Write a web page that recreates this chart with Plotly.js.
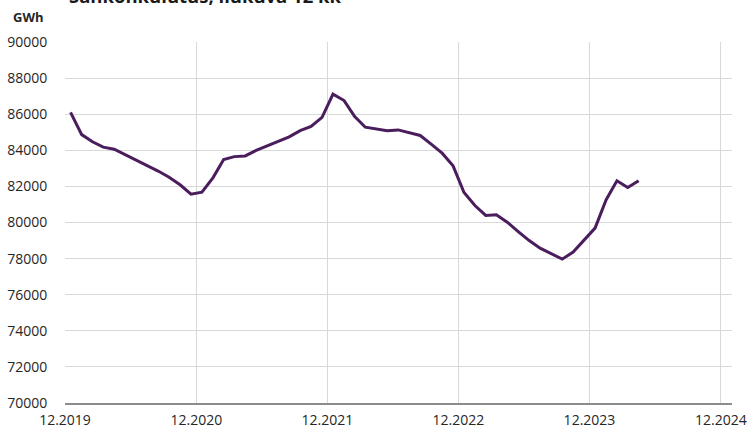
<!DOCTYPE html>
<html>
<head>
<meta charset="utf-8">
<script src="https://cdn.plot.ly/plotly-3.0.1.min.js"></script>
<style>html,body{margin:0;padding:0;background:#fff;}#chart{width:755px;height:434px;}</style>
</head>
<body>
<div id="chart"></div>
<script>
const months = [
  "2019-12","2020-01","2020-02","2020-03","2020-04","2020-05","2020-06","2020-07","2020-08","2020-09","2020-10","2020-11",
  "2020-12","2021-01","2021-02","2021-03","2021-04","2021-05","2021-06","2021-07","2021-08","2021-09","2021-10","2021-11",
  "2021-12","2022-01","2022-02","2022-03","2022-04","2022-05","2022-06","2022-07","2022-08","2022-09","2022-10","2022-11",
  "2022-12","2023-01","2023-02","2023-03","2023-04","2023-05","2023-06","2023-07","2023-08","2023-09","2023-10","2023-11",
  "2023-12","2024-01","2024-02","2024-03","2024-04"
];
const consumption = [
  86100,84870,84470,84175,84060,83765,83470,83140,82850,82510,82090,81570,
  81680,82490,83490,83650,83690,83990,84250,84520,84745,85090,85320,85825,
  87110,86755,85870,85280,85190,85080,85130,84970,84820,84340,83840,83140,
  81660,80925,80390,80430,80020,79500,79000,78580,78270,77970,78360,79025,
  79690,81260,82310,81940,82310
];
const titleText = "Sähkönkulutus, liukuva 12 kk";
const unitText = "GWh";

const font = {family: "Open Sans, sans-serif", size: 14, color: "#262626"};

Plotly.newPlot("chart", [{
  x: months,
  y: consumption,
  xperiod: "M1",
  xperiodalignment: "middle",
  type: "scatter",
  mode: "lines",
  line: {color: "#4a1d5c", width: 3},
  hoverinfo: "x+y"
}], {
  width: 755, height: 434,
  margin: {l: 65, r: 23, t: 42, b: 31},
  paper_bgcolor: "#ffffff",
  plot_bgcolor: "#ffffff",
  showlegend: false,
  font: font,
  xaxis: {
    type: "date",
    range: ["2019-12-01", "2025-01-01"],
    tick0: "2019-12-01",
    dtick: "M12",
    tickformat: "%m.%Y",
    showgrid: true,
    gridcolor: "#d9d9d9",
    gridwidth: 1,
    showline: true,
    linecolor: "#8c8c8c",
    linewidth: 1.5,
    ticks: "outside",
    ticklen: 3,
    tickcolor: "rgba(0,0,0,0)",
    zeroline: false,
    tickfont: font
  },
  yaxis: {
    range: [70000, 90000],
    dtick: 2000,
    tick0: 70000,
    showgrid: true,
    gridcolor: "#d9d9d9",
    gridwidth: 1,
    zeroline: false,
    showline: false,
    ticks: "outside",
    ticklen: 14,
    tickcolor: "rgba(0,0,0,0)",
    tickformat: "d",
    tickfont: font
  },
  annotations: [
    {text: "<b>" + unitText + "</b>", xref: "paper", yref: "paper",
     x: (28 - 65) / 667, y: 1 + (42 - 17) / 361, xanchor: "center", yanchor: "middle",
     showarrow: false, font: {family: "Open Sans, sans-serif", size: 13, color: "#262626"}},
    {text: "<b>" + titleText + "</b>", xref: "paper", yref: "paper",
     x: (67 - 65) / 667, y: 1 + (42 + 4) / 361, xanchor: "left", yanchor: "middle",
     showarrow: false, font: {family: "Open Sans, sans-serif", size: 18.5, color: "#1a1a1a"}}
  ]
}, {displayModeBar: false});
</script>
</body>
</html>
